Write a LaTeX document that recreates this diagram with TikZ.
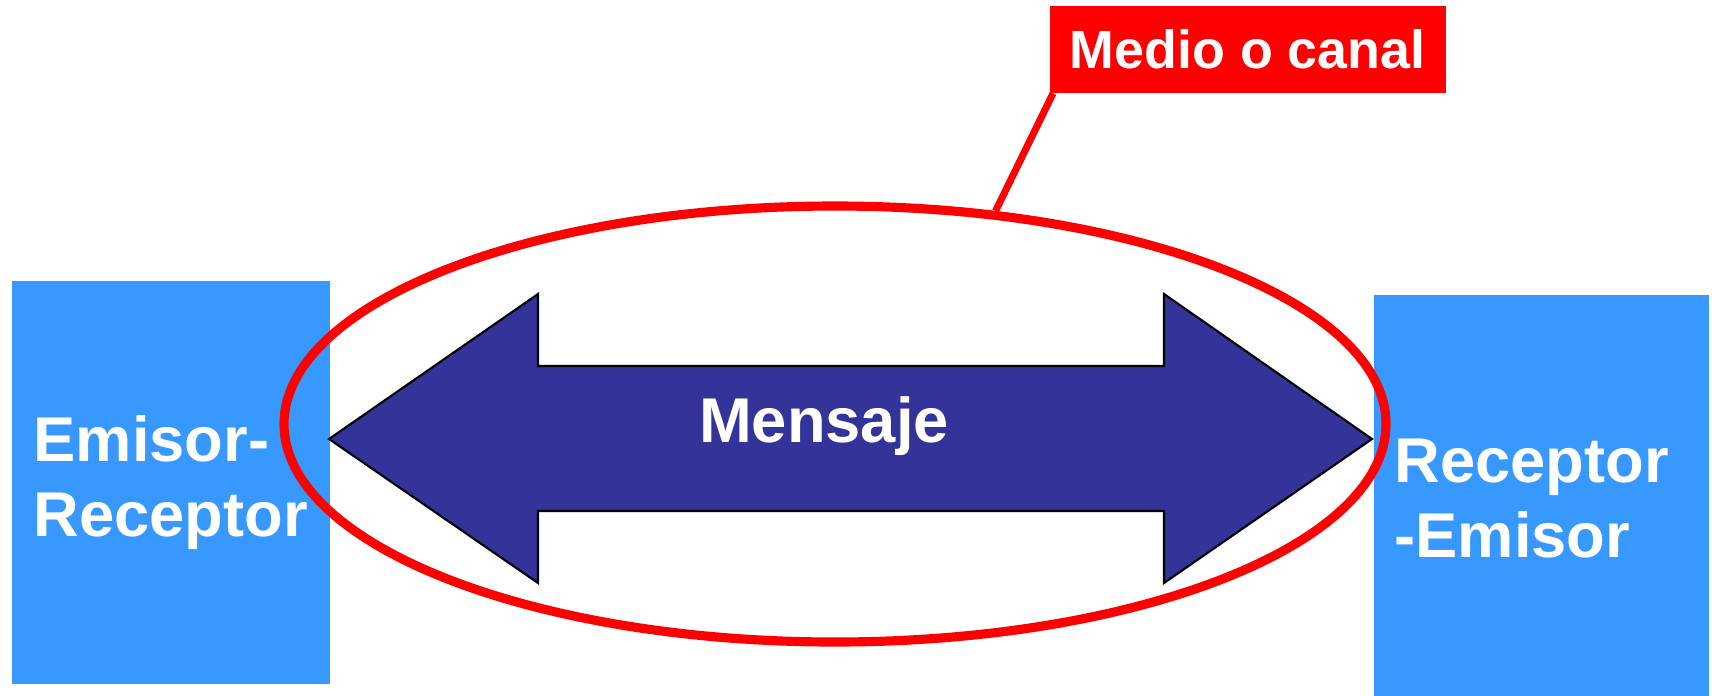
\documentclass[tikz,border=0pt]{standalone}
\usepackage{fontspec}
\setmainfont{Liberation Sans}
\usetikzlibrary{shapes.geometric, positioning}

\definecolor{boxblue}{RGB}{55,153,255}
\definecolor{arrowblue}{RGB}{51,51,153}

\begin{document}
\begin{tikzpicture}[
  party/.style={rectangle,fill=boxblue,text=white,align=left,inner sep=0pt,anchor=north west,
    font=\fontsize{18}{21.3}\selectfont\bfseries},
  label/.style={text=white,align=left,inner sep=0pt,font=\fontsize{18}{21.3}\selectfont\bfseries}]
\useasboundingbox (0,0) rectangle (17.12,-6.95);
\node[party,minimum width=3.18cm,minimum height=4.03cm] (emisor) at (0.11,-2.80) {Emisor-\\Receptor};
\node[party,minimum width=3.35cm,minimum height=4.01cm] (receptor) at (13.73,-2.94) {};
\node[label,right=0.21cm of receptor.west,yshift=-0.03cm] (receptortext) {Receptor\\-Emisor};
\draw[fill=arrowblue,draw=black,line width=0.6pt] (3.29,-4.39) -- (5.38,-2.94) -- (5.38,-3.66) -- (11.64,-3.66)
  -- (11.64,-2.94) -- (13.72,-4.39) -- (11.64,-5.83) -- (11.64,-5.11) -- (5.38,-5.11) -- (5.38,-5.83) -- cycle;
\node[label,anchor=base] (mensaje) at (8.24,-4.42) {Mensaje};
\node[ellipse,draw=red,line width=2.6pt,minimum width=11.02cm,minimum height=4.36cm,inner sep=0pt] (medio) at (8.35,-4.24) {};
\node[fill=red,text=white,font=\fontsize{15.3}{18}\selectfont\bfseries,minimum width=3.96cm,minimum height=0.87cm,
  inner sep=0pt,anchor=north west] (canal) at (10.49,-0.05) {Medio o canal};
\draw[red,line width=2pt] ([xshift=0.04cm]canal.south west) -- (medio.53.5);
\end{tikzpicture}
\end{document}
